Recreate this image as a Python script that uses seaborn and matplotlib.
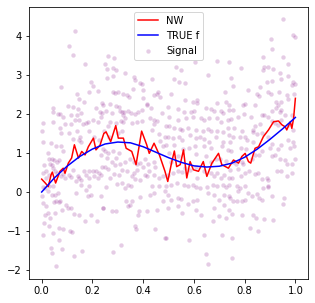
import numpy as np
import seaborn as sns
import matplotlib
matplotlib.use('Agg')
import matplotlib.pyplot as plt

# Noisy signal samples
signal_x = [
    0.133, 0.109, 0.125, 0.172, 0.076, 0.195, 0.204, 0.188, 0.141, 0.221, 0.168, 0.149, 0.125, 0.105, 0.142, 0.214,
    0.228, 0.155, 0.138, 0.116, 0.046, 0.043, 0.063, 0.074, 0.083, 0.043, 0.007, 0.092, 0.116, 0.133, 0.149, 0.162,
    0.175, 0.182, 0.201, 0.221, 0.234, 0.001, 0.072, 0.076, 0.109, 0.138, 0.151, 0.146, 0.155, 0.122, 0.188, 0.208,
    0.225, 0.004, 0.037, 0.057, 0.076, 0.083, 0.024, 0.041, 0.028, 0.050, 0.059, 0.070, 0.011, 0.033, 0.041, 0.046,
    0.004, 0.017, 0.030, 0.017, 0.054, 0.059, 0.076, 0.083, 0.093, 0.109, 0.116, 0.125, 0.142, 0.149, 0.155, 0.136,
    0.168, 0.175, 0.188, 0.201, 0.214, 0.225, 0.221, 0.208, 0.188, 0.234, 0.007, 0.014, 0.024, 0.030, 0.043, 0.041,
    0.054, 0.063, 0.057, 0.067, 0.050, 0.072, 0.004, 0.017, 0.014, 0.024, 0.033, 0.011, 0.028, 0.043, 0.054, 0.080,
    0.096, 0.103, 0.116, 0.136, 0.155, 0.175, 0.188, 0.182, 0.195, 0.234, 0.241, 0.126, 0.149, 0.195, 0.172, 0.218,
    0.007, 0.070, 0.083, 0.112, 0.118, 0.067, 0.037, 0.041, 0.080, 0.129, 0.159, 0.057, 0.000,
    0.263, 0.286, 0.250, 0.259, 0.283, 0.293, 0.280, 0.257, 0.329, 0.362, 0.368, 0.386, 0.395, 0.434, 0.359, 0.283,
    0.289, 0.299, 0.322, 0.336, 0.346, 0.401, 0.399, 0.441, 0.457, 0.467, 0.454, 0.237, 0.243, 0.270, 0.293, 0.303,
    0.309, 0.316, 0.325, 0.276, 0.237, 0.254, 0.342, 0.351, 0.368, 0.378, 0.395, 0.414, 0.417, 0.430, 0.474, 0.322,
    0.329, 0.322, 0.312, 0.293, 0.270, 0.263, 0.246, 0.267, 0.299, 0.316, 0.355, 0.375, 0.395, 0.428, 0.441, 0.454,
    0.441, 0.434, 0.461, 0.487, 0.467, 0.480, 0.241, 0.233, 0.250, 0.263, 0.283, 0.303, 0.293, 0.257, 0.276, 0.289,
    0.237, 0.250, 0.263, 0.309, 0.329, 0.349, 0.362, 0.375, 0.386, 0.408, 0.421, 0.441, 0.447, 0.425, 0.408, 0.401,
    0.375, 0.362, 0.355, 0.336, 0.316, 0.303, 0.286, 0.270, 0.254, 0.296, 0.316, 0.329, 0.342, 0.351, 0.368, 0.388,
    0.414, 0.441, 0.461, 0.480, 0.434, 0.428, 0.441, 0.464, 0.487, 0.241, 0.276, 0.293, 0.333, 0.349, 0.355, 0.342,
    0.382, 0.378, 0.414, 0.454, 0.368, 0.372, 0.445, 0.312, 0.283, 0.487, 0.388, 0.480,
    0.529, 0.549, 0.604, 0.691, 0.739, 0.522, 0.542, 0.564, 0.654, 0.724, 0.509, 0.564, 0.595, 0.612, 0.614, 0.693,
    0.726, 0.739, 0.496, 0.536, 0.562, 0.588, 0.601, 0.647, 0.667, 0.680, 0.707, 0.713, 0.739, 0.503, 0.536, 0.568,
    0.595, 0.628, 0.641, 0.661, 0.693, 0.707, 0.733, 0.489, 0.503, 0.522, 0.546, 0.555, 0.575, 0.608, 0.634, 0.654,
    0.667, 0.693, 0.713, 0.733, 0.739, 0.496, 0.516, 0.542, 0.555, 0.585, 0.608, 0.625, 0.641, 0.661, 0.687, 0.713,
    0.489, 0.522, 0.559, 0.582, 0.604, 0.641, 0.667, 0.709, 0.733, 0.503, 0.536, 0.608, 0.647, 0.667, 0.687, 0.704,
    0.726, 0.509, 0.496, 0.516, 0.536, 0.555, 0.564, 0.585, 0.608, 0.614, 0.641, 0.667, 0.680, 0.693, 0.707, 0.720,
    0.739, 0.489, 0.509, 0.533, 0.562, 0.575, 0.595, 0.608, 0.625, 0.651, 0.674, 0.693, 0.713, 0.726, 0.739, 0.496,
    0.509, 0.536, 0.549, 0.575, 0.595, 0.614, 0.654, 0.680, 0.700, 0.720, 0.739, 0.499, 0.536, 0.555, 0.608, 0.628,
    0.680, 0.720, 0.726, 0.700, 0.674, 0.489, 0.582, 0.641, 0.709, 0.647, 0.654, 0.739,
    0.951, 0.991, 1.000, 0.904, 0.907, 0.871, 0.951, 0.786, 0.877, 0.893, 0.913, 0.874, 0.970, 0.746, 0.939, 0.972,
    0.945, 0.907, 0.887, 0.755, 0.861, 0.991, 0.997, 0.988, 0.814, 0.847, 0.856, 0.893, 0.904, 0.935, 0.966, 0.995,
    0.972, 0.945, 0.922, 0.755, 0.795, 0.801, 0.841, 0.799, 0.775, 0.825, 0.867, 0.877, 0.907, 0.922, 0.930, 0.939,
    0.945, 0.959, 0.986, 0.746, 0.759, 0.791, 0.834, 0.841, 0.861, 0.834, 0.847, 0.893, 0.907, 0.920, 0.945, 0.933,
    0.970, 0.991, 0.755, 0.742, 0.782, 0.801, 0.808, 0.834, 0.786, 0.804, 0.746, 0.867, 0.891, 0.907, 0.900, 0.933,
    0.945, 0.970, 0.991, 0.979, 0.995, 0.755, 0.764, 0.788, 0.795, 0.828, 0.841, 0.856, 0.867, 0.907, 0.920, 0.939,
    0.959, 0.966, 0.986, 0.997, 0.742, 0.749, 0.775, 0.786, 0.801, 0.817, 0.841, 0.851, 0.867, 0.887, 0.893, 0.926,
    0.945, 0.966, 0.986, 0.768, 0.782, 0.801, 0.775, 0.814, 0.828, 0.847, 0.874, 0.893, 0.907, 0.856, 0.867, 0.957,
    0.951, 0.742, 0.755, 0.768, 0.788, 0.801, 0.751, 0.788, 0.834, 0.843, 0.877, 0.913, 0.821, 0.851, 0.749, 0.751,
    0.891,
]
signal_y = [
    4.12, 3.74, 3.52, 3.27, 2.69, 2.81, 2.71, 2.55, 2.50, 2.59, 2.31, 2.38, 2.19, 2.20, 2.13, 2.14,
    2.06, 2.02, 1.97, 1.96, 2.14, 2.04, 1.99, 1.99, 1.91, 1.79, 1.76, 1.74, 1.74, 1.85, 1.85, 1.74,
    1.76, 1.79, 1.85, 1.80, 1.91, 1.57, 1.63, 1.51, 1.51, 1.55, 1.42, 1.34, 1.29, 1.36, 1.55, 1.42,
    1.34, 1.29, 1.25, 1.17, 1.17, 1.04, 1.00, 0.85, 0.85, 0.83, 0.78, 0.83, 0.70, 0.71, 0.70, 0.61,
    0.49, 0.55, 0.44, 0.36, 0.53, 0.49, 0.40, 0.46, 0.36, 0.43, 0.38, 0.57, 0.40, 0.36, 0.32, 0.27,
    0.53, 0.44, 0.53, 0.55, 0.55, 0.49, 0.36, 0.40, 0.36, 0.44, 0.12, 0.09, 0.02, 0.15, 0.15, -0.08,
    -0.07, -0.02, -0.24, -0.26, -0.26, -0.24, -0.28, -0.36, -0.58, -0.53, -0.66, -0.79, -0.88, -1.05, -0.53, -0.45,
    -0.32, -0.41, -0.41, -0.02, 0.19, 0.06, 0.15, -0.11, -0.07, -0.11, -0.41, -0.56, -0.58, -0.58, -0.73, -0.75,
    -1.09, -0.92, -0.96, -0.99, -1.03, -1.22, -1.43, -1.56, -1.47, -1.64, -1.50, -1.90, -0.11,
    3.49, 3.42, 3.27, 3.16, 3.18, 3.12, 2.98, 2.93, 3.06, 2.95, 2.87, 2.78, 2.76, 2.89, 2.65, 2.55,
    2.53, 2.55, 2.50, 2.48, 2.44, 2.61, 2.40, 2.48, 2.55, 2.44, 2.50, 2.27, 2.23, 2.25, 2.21, 2.19,
    2.08, 2.06, 2.04, 2.02, 2.02, 2.08, 2.08, 2.02, 1.99, 2.06, 2.10, 2.23, 2.25, 2.14, 2.02, 1.97,
    1.89, 1.79, 1.82, 1.76, 1.80, 1.68, 1.55, 1.42, 1.51, 1.55, 1.76, 1.80, 1.82, 1.89, 1.85, 1.82,
    1.74, 1.59, 1.48, 1.42, 1.31, 1.17, 1.11, 0.95, 1.04, 1.00, 1.06, 1.00, 0.87, 0.87, 0.77, 0.70,
    0.63, 0.63, 0.60, 0.71, 0.78, 0.85, 0.78, 0.71, 0.74, 0.85, 0.71, 0.78, 0.63, 0.55, 0.44, 0.63,
    0.57, 0.49, 0.40, 0.53, 0.57, 0.44, 0.46, 0.36, 0.12, 0.21, 0.23, 0.10, 0.17, 0.15, 0.34, 0.32,
    0.40, 0.43, 0.36, 0.40, 0.15, -0.08, -0.02, 0.15, 0.02, -0.42, -0.48, -0.48, -0.24, -0.32, -0.24, -0.36,
    -0.49, -0.59, -0.48, -0.45, -0.88, -0.96, -0.94, -1.36, -1.53, -1.19, -0.13, -0.24,
    3.21, 3.12, 3.32, 3.35, 3.33, 2.89, 2.81, 2.78, 2.99, 2.55, 2.50, 2.36, 2.31, 2.36, 2.27, 2.27,
    2.31, 2.23, 2.19, 2.13, 2.06, 2.04, 2.08, 2.16, 2.13, 2.08, 2.08, 2.02, 2.10, 1.93, 1.85, 1.89,
    1.93, 1.89, 1.85, 1.89, 1.89, 1.79, 1.85, 1.70, 1.68, 1.63, 1.62, 1.59, 1.65, 1.59, 1.57, 1.62,
    1.55, 1.57, 1.53, 1.65, 1.45, 1.42, 1.38, 1.42, 1.34, 1.45, 1.38, 1.40, 1.36, 1.29, 1.40, 1.28,
    1.21, 1.21, 1.11, 1.12, 1.17, 1.17, 1.12, 1.17, 1.08, 1.00, 0.91, 0.97, 0.91, 0.78, 0.85, 0.85,
    0.80, 0.78, 0.44, 0.49, 0.53, 0.51, 0.61, 0.57, 0.65, 0.36, 0.53, 0.49, 0.40, 0.49, 0.36, 0.44,
    0.36, 0.15, 0.19, 0.23, 0.19, 0.15, 0.19, 0.12, 0.09, 0.12, 0.19, 0.15, 0.19, 0.12, 0.19, -0.07,
    -0.20, -0.15, -0.17, -0.31, -0.24, -0.20, -0.02, -0.08, -0.20, -0.07, -0.11, -0.41, -0.36, -0.53, -0.45, -0.58,
    -0.41, -0.32, -0.66, -0.62, -0.75, -1.17, -1.24, -1.09, -1.09, -1.60, -1.84, -0.45,
    4.42, 4.03, 3.97, 3.93, 3.66, 3.46, 3.46, 3.18, 3.21, 3.21, 3.16, 3.12, 3.27, 2.93, 3.04, 2.98,
    2.89, 2.84, 2.82, 2.72, 2.70, 2.82, 2.76, 2.74, 2.61, 2.50, 2.47, 2.55, 2.50, 2.55, 2.48, 2.50,
    2.38, 2.31, 2.31, 2.10, 2.23, 2.25, 2.23, 1.99, 1.93, 1.93, 1.97, 1.97, 2.08, 2.16, 2.23, 2.06,
    2.10, 1.97, 1.97, 1.87, 1.63, 1.55, 1.59, 1.70, 1.74, 1.53, 1.48, 1.91, 1.82, 1.76, 1.85, 1.72,
    1.72, 1.59, 1.40, 1.29, 1.40, 1.42, 1.34, 1.29, 1.14, 1.11, 1.04, 1.51, 1.42, 1.22, 1.12, 1.11,
    1.21, 1.34, 1.29, 1.12, 1.19, 0.78, 0.71, 0.78, 0.71, 0.85, 0.95, 0.95, 1.04, 0.91, 0.95, 0.85,
    0.83, 0.71, 0.71, 0.85, 0.57, 0.36, 0.60, 0.40, 0.49, 0.55, 0.46, 0.49, 0.34, 0.36, 0.32, 0.53,
    0.53, 0.40, 0.49, 0.15, 0.09, 0.15, 0.02, -0.02, -0.11, -0.05, 0.09, 0.12, -0.11, -0.15, -0.20, -0.15,
    -0.31, -0.15, -0.22, -0.24, -0.24, -0.20, -0.56, -0.60, -0.60, -0.66, -0.68, -0.71, -0.92, -0.99, -1.17, -1.68,
    0.15,
]

# Nadaraya-Watson estimate
nw_x = [0.000, 0.013, 0.026, 0.037, 0.042, 0.055, 0.072, 0.085, 0.092, 0.105, 0.118, 0.129, 0.145, 0.158,
        0.171, 0.184, 0.204, 0.214, 0.230, 0.245, 0.254, 0.272, 0.292, 0.302, 0.322, 0.333, 0.355, 0.372,
        0.394, 0.414, 0.424, 0.443, 0.464, 0.486, 0.497, 0.513, 0.523, 0.532, 0.546, 0.559, 0.572, 0.585,
        0.598, 0.618, 0.637, 0.651, 0.671, 0.697, 0.710, 0.736, 0.756, 0.776, 0.789, 0.802, 0.815, 0.824,
        0.841, 0.855, 0.874, 0.894, 0.914, 0.933, 0.947, 0.960, 0.966, 0.980, 0.986, 0.993, 1.000]
nw_y = [0.33, 0.24, 0.14, 0.44, 0.51, 0.23, 0.53, 0.61, 0.48, 0.74, 0.87, 1.21, 0.87, 1.04,
        0.95, 1.16, 1.38, 1.08, 1.20, 1.50, 1.54, 1.29, 1.70, 1.38, 1.38, 1.12, 1.04, 0.70,
        1.56, 1.21, 0.99, 1.25, 0.95, 0.53, 0.27, 0.78, 1.05, 0.65, 0.70, 1.08, 0.36, 0.78,
        0.57, 0.53, 0.78, 0.40, 0.74, 0.99, 0.70, 0.61, 0.82, 0.74, 0.91, 0.99, 0.78, 0.74,
        1.12, 1.16, 1.42, 1.59, 1.80, 1.82, 1.72, 1.67, 1.59, 1.80, 1.63, 1.89, 2.40]

# True function
true_x = [0.00, 0.05, 0.10, 0.15, 0.20, 0.25, 0.30, 0.35, 0.40, 0.45, 0.50,
          0.55, 0.60, 0.65, 0.70, 0.75, 0.80, 0.85, 0.90, 0.95, 1.00]
true_y = [0.00, 0.36, 0.66, 0.91, 1.10, 1.23, 1.28, 1.26, 1.16, 1.02, 0.88,
          0.76, 0.67, 0.64, 0.66, 0.74, 0.89, 1.10, 1.35, 1.62, 1.91]

plt.rcParams['font.size'] = 10
fig, ax = plt.subplots(figsize=(315 / 72, 303 / 72), dpi=72)
fig.subplots_adjust(left=0.092, right=0.978, bottom=0.079, top=0.977)

sns.lineplot(x=nw_x, y=nw_y, color='red', label='NW', ax=ax, sort=False)
sns.lineplot(x=true_x, y=true_y, color='blue', label='TRUE f', ax=ax, sort=False)
sns.scatterplot(x=signal_x, y=signal_y, color='purple', alpha=0.2, s=20,
                label='Signal', ax=ax)

ax.set_xlim(-0.05, 1.05)
ax.set_ylim(-2.23, 4.74)
ax.set_xticks([0.0, 0.2, 0.4, 0.6, 0.8, 1.0])
ax.legend(loc='upper center')

plt.savefig('out.png', dpi=72)
